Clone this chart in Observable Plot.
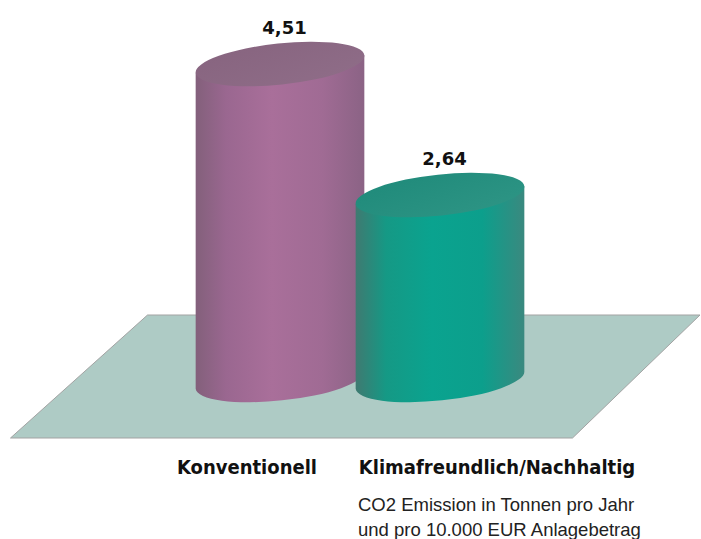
<!DOCTYPE html>
<html>
<head>
<meta charset="utf-8">
<script src="https://cdn.jsdelivr.net/npm/d3@7"></script>
<script src="https://cdn.jsdelivr.net/npm/@observablehq/plot@0.6"></script>
<style>
  body { margin: 0; background: #fff; }
  #chart svg { display: block; }
  #caption {
    margin: 7px 0 0 358px;
    font-family: "Liberation Sans", Arial, sans-serif;
    font-size: 18.5px;
    line-height: 25px;
    color: #222;
  }
</style>
</head>
<body>
<div id="chart"></div>
<div id="caption"></div>
<script>
// ---- data ----
const categories = ["Konventionell", "Klimafreundlich/Nachhaltig"];
const values = [4.51, 2.64];
const valueLabels = ["4,51", "2,64"];
const captionLines = ["CO2 Emission in Tonnen pro Jahr", "und pro 10.000 EUR Anlagebetrag"];

// ---- styles ----
const bodyStops = [
  ["#83607b", "#9a6790", "#a96f9a", "#a06b94", "#8b6385"],
  ["#3f7a71", "#159985", "#0aa38f", "#0c9f8c", "#3a897f"]
];
const topStops = [
  ["#87647f", "#8f6d88"],
  ["#1f8a7a", "#2e9585"]
];
const floorFill = "#aecbc5";

const data = categories.map((c, i) => ({category: c, value: values[i], label: valueLabels[i], idx: i}));

// floor (decoration anchored to the scales)
function floorMark(index, scales, vals, dims) {
  const {x, y} = scales;
  const y0 = y(0);
  const xl = x(categories[0]);
  const top = y0 - 65, bot = y0 + 58;
  const pts = [[xl - 132.5, top], [dims.width - 1, top], [xl + 292.5, bot], [xl - 269.5, bot]];
  const g = d3.create("svg:g");
  g.append("polygon")
    .attr("points", pts.map(p => p.join(",")).join(" "))
    .attr("fill", floorFill)
    .attr("stroke", "#a3a3a3")
    .attr("stroke-width", 1);
  return g.node();
}

// cylinders drawn through x / y scales
function cylinderMark(index, scales, vals, dims) {
  const {x, y} = scales;
  const g = d3.create("svg:g");
  const defs = g.append("defs");
  const step = x(categories[1]) - x(categories[0]);
  const rx = step * 0.53, ry = 20.5, ang = -6, rad = ang * Math.PI / 180;
  const ex = rx * Math.cos(rad), ey = rx * Math.sin(rad);
  data.forEach((d, i) => {
    const cx = x(d.category), yt = y(d.value), yb = y(0);
    const bid = "cylBody" + i, tid = "cylTop" + i;
    const lg = defs.append("linearGradient").attr("id", bid)
      .attr("x1", 0).attr("x2", 1).attr("y1", 0).attr("y2", 0);
    const offs = [0, 0.18, 0.45, 0.75, 1];
    bodyStops[i].forEach((c, k) => lg.append("stop").attr("offset", offs[k]).attr("stop-color", c));
    const tg = defs.append("linearGradient").attr("id", tid)
      .attr("x1", 0).attr("x2", 1).attr("y1", 0).attr("y2", 1);
    topStops[i].forEach((c, k) => tg.append("stop").attr("offset", k).attr("stop-color", c));
    const path = `M${cx - ex},${yt - ey}L${cx - ex},${yb - ey}` +
      `A${rx},${ry} ${ang} 0 0 ${cx + ex},${yb + ey}L${cx + ex},${yt + ey}Z`;
    g.append("path").attr("d", path).attr("fill", `url(#${bid})`);
    g.append("ellipse")
      .attr("cx", cx).attr("cy", yt).attr("rx", rx).attr("ry", ry)
      .attr("transform", `rotate(${ang} ${cx} ${yt})`)
      .attr("fill", `url(#${tid})`);
  });
  return g.node();
}

const catFont = "'DejaVu Sans Condensed', 'DejaVu Sans', sans-serif";

const chart = Plot.plot({
  width: 701,
  height: 485,
  marginTop: 64,
  marginBottom: 105,
  marginLeft: 279.5,
  marginRight: 261.5,
  x: {type: "point", domain: categories, padding: 0, axis: null},
  y: {domain: [0, d3.max(values)], axis: null},
  marks: [
    floorMark,
    cylinderMark,
    Plot.text(data, {
      x: "category", y: "value", text: "label",
      dx: 4, dy: -36, fontSize: 18, fontWeight: "bold",
      fontFamily: "'DejaVu Sans', sans-serif", fill: "#111"
    }),
    Plot.text(data, {
      filter: d => d.idx === 0,
      x: "category", y: d => 0, text: "category",
      dx: -33.5, dy: 87, fontSize: 20, fontWeight: "bold",
      fontFamily: catFont, fill: "#111"
    }),
    Plot.text(data, {
      filter: d => d.idx === 1,
      x: "category", y: d => 0, text: "category",
      dx: 56.5, dy: 87, fontSize: 20, fontWeight: "bold",
      fontFamily: catFont, fill: "#111"
    })
  ]
});
document.getElementById("chart").appendChild(chart);

const cap = d3.select("#caption");
captionLines.forEach(t => cap.append("div").text(t));
</script>
</body>
</html>
